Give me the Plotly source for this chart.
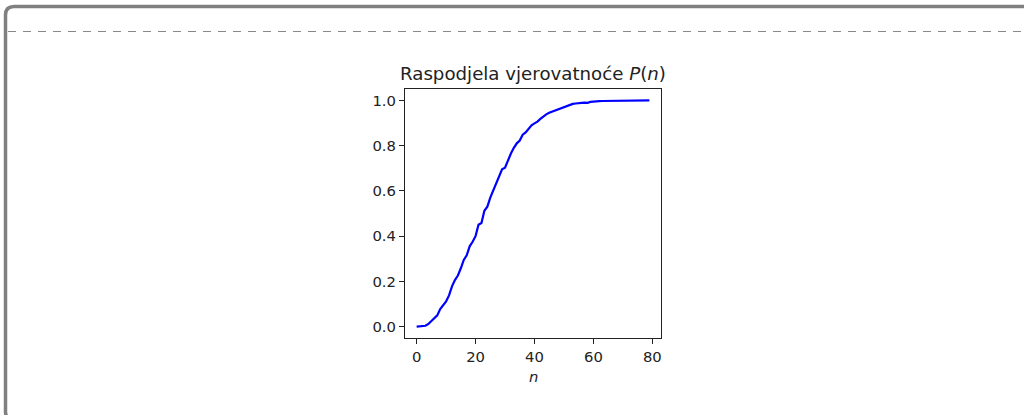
import plotly.graph_objects as go

# Cumulative probability P(n) for n = 0..79
n_values = list(range(80))
p_values = [
    0.000, 0.001, 0.002, 0.004, 0.012, 0.025, 0.038, 0.050, 0.078, 0.094,
    0.112, 0.138, 0.178, 0.206, 0.226, 0.258, 0.295, 0.315, 0.355, 0.375,
    0.400, 0.450, 0.458, 0.512, 0.530, 0.570, 0.600, 0.632, 0.668, 0.695,
    0.702, 0.738, 0.765, 0.790, 0.810, 0.822, 0.848, 0.858, 0.875, 0.890,
    0.898, 0.906, 0.918, 0.930, 0.938, 0.945, 0.950, 0.954, 0.958, 0.963,
    0.970, 0.974, 0.978, 0.984, 0.986, 0.989, 0.989, 0.990, 0.989, 0.993,
    0.995, 0.996, 0.996, 0.997, 0.997, 0.998, 0.998, 0.998, 0.999, 0.998,
    0.999, 0.999, 0.999, 0.999, 1.000, 0.999, 1.000, 1.000, 1.000, 1.000,
]
x_ticks = [0, 20, 40, 60, 80]
y_ticks = [0.0, 0.2, 0.4, 0.6, 0.8, 1.0]
y_tick_labels = ["0.0", "0.2", "0.4", "0.6", "0.8", "1.0"]

W, H = 1024, 415
L, R, T, B = 405, 661, 89, 338  # plot box in pixels
PW, PH = R - L, B - T


def px(x):
    return (x - L) / PW


def py(y):
    return (B - y) / PH


FONT = "DejaVu Sans"
TXT = "#222222"

fig = go.Figure()
fig.add_trace(go.Scatter(
    x=n_values, y=p_values, mode="lines",
    line=dict(color="#0000ff", width=2.2),
    hoverinfo="skip", showlegend=False,
))

axis_common = dict(
    showline=True, linecolor="#222222", linewidth=1.1, mirror=True,
    ticks="outside", ticklen=5, tickwidth=1.1, tickcolor="#222222",
    showgrid=False, zeroline=False,
    tickfont=dict(family=FONT, size=14.8, color=TXT),
)

fig.update_xaxes(range=[-3.95, 82.95], tickmode="array", tickvals=x_ticks,
                 ticktext=[str(v) for v in x_ticks], **axis_common)
fig.update_yaxes(range=[-0.05, 1.05], tickmode="array", tickvals=y_ticks,
                 ticktext=y_tick_labels, **axis_common)

# Page frame: rounded border and dashed separator
frame_path = (
    f"M {px(1040)},{py(420)} L {px(14)},{py(420)} "
    f"Q {px(5.5)},{py(420)} {px(5.5)},{py(411.5)} L {px(5.5)},{py(15)} "
    f"Q {px(5.5)},{py(6.5)} {px(14)},{py(6.5)} L {px(1040)},{py(6.5)}"
)
shapes = [
    dict(type="path", xref="paper", yref="paper", path=frame_path,
         line=dict(color="#808080", width=3.5), layer="below"),
    dict(type="line", xref="paper", yref="paper",
         x0=px(8), x1=px(1030), y0=py(31.5), y1=py(31.5),
         line=dict(color="#888888", width=1.2, dash="8px,7px"), layer="below"),
]

annotations = [
    dict(text="Raspodjela vjerovatnoće <i>P</i>(<i>n</i>)", xref="paper", yref="paper",
         x=0.5, y=py(74), xanchor="center", yanchor="middle", showarrow=False,
         font=dict(family=FONT, size=18.2, color=TXT)),
    dict(text="<i>n</i>", xref="paper", yref="paper",
         x=0.5, y=py(376), xanchor="center", yanchor="middle", showarrow=False,
         font=dict(family=FONT, size=14.8, color=TXT)),
]

fig.update_layout(
    width=W, height=H,
    margin=dict(l=L, r=W - R, t=T, b=H - B, autoexpand=False),
    paper_bgcolor="white", plot_bgcolor="white",
    shapes=shapes, annotations=annotations,
)

fig.write_html("out.html", config={"displayModeBar": False})
